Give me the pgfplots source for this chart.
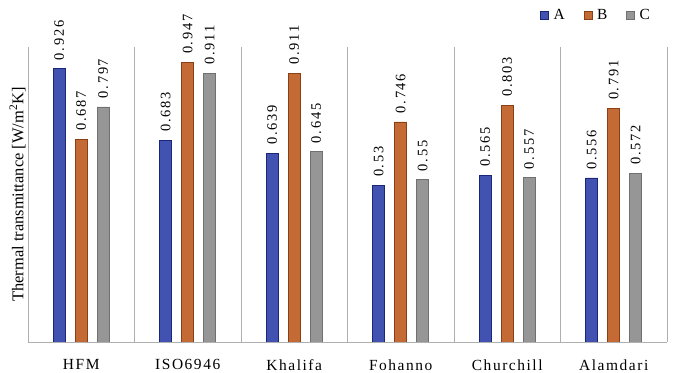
\documentclass[border=0pt]{standalone}
\usepackage{fontspec}
\setmainfont{Liberation Serif}
\newfontfamily\spaced[LetterSpace=10]{Liberation Serif}
\newfontfamily\numfont[LetterSpace=12]{Liberation Serif}
\usepackage{pgfplots}
\usepackage{pgfplotstable}
\pgfplotsset{compat=1.18}

\definecolor{cA}{RGB}{66,82,176}
\definecolor{cAd}{RGB}{28,38,120}
\definecolor{cB}{RGB}{196,106,52}
\definecolor{cBd}{RGB}{140,62,20}
\definecolor{cC}{RGB}{150,150,150}
\definecolor{cCd}{RGB}{112,112,112}
\definecolor{gridc}{RGB}{175,175,175}

% transmittance per method; A, B and C are the three configurations
\pgfplotstableread{
x A B C
0 0.926 0.687 0.797
1 0.683 0.947 0.911
2 0.639 0.911 0.645
3 0.53 0.746 0.55
4 0.565 0.803 0.557
5 0.556 0.791 0.572
}\datatable

\begin{document}
\begin{tikzpicture}
\path[use as bounding box] (0,0) rectangle (673bp,373bp);
\begin{axis}[
  at={(28bp,31bp)}, anchor=south west,
  scale only axis,
  width=639bp, height=295bp,
  ybar, bar width=12bp,
  xmin=-0.5, xmax=5.5,
  ymin=0, ymax=1,
  axis x line*=bottom,
  axis y line*=left,
  y axis line style={draw=none},
  ytick=\empty,
  x axis line style={gridc, line width=0.8pt, -},
  xtick={0,...,5},
  xticklabels={HFM,ISO6946,Khalifa,Fohanno,Churchill,Alamdari},
  xticklabel style={font=\spaced\fontsize{15.5}{17}\selectfont, yshift=-14bp},
  major tick length=0pt,
  minor xtick={-0.5,0.5,...,5.5},
  minor tick length=0pt,
  xminorgrids,
  minor grid style={gridc, line width=0.8pt},
  ylabel={Thermal transmittance [W/m\textsuperscript{2}K]},
  ylabel style={font=\fontsize{16.5}{18}\selectfont, yshift=-1bp},
  /pgf/number format/.cd, fixed, precision=3, assume math mode=true,
  /pgfplots/.cd,
  nodes near coords,
  every node near coord/.append style={font=\numfont\fontsize{14.5}{16}\selectfont, rotate=90, anchor=west, xshift=5bp, text=black},
  legend columns=3,
  legend style={at={(0.889,1.108)}, anchor=center, draw=none, fill=none,
    font=\fontsize{15.5}{17}\selectfont,
    /tikz/every even column/.append style={column sep=17bp}},
  legend image code/.code={\path[draw=none, fill=none] (0bp,0bp) -- (11bp,0bp);
    \draw[#1] (0bp,-4bp) rectangle (8bp,4bp);},
]
\addplot[fill=cA, draw=cAd, line width=0.7pt, bar shift=-22bp] table[x=x, y=A] {\datatable};
\addplot[fill=cB, draw=cBd, line width=0.7pt, bar shift=0bp] table[x=x, y=B] {\datatable};
\addplot[fill=cC, draw=cCd, line width=0.7pt, bar shift=22bp] table[x=x, y=C] {\datatable};
\legend{A,B,C}
\end{axis}
\end{tikzpicture}
\end{document}
